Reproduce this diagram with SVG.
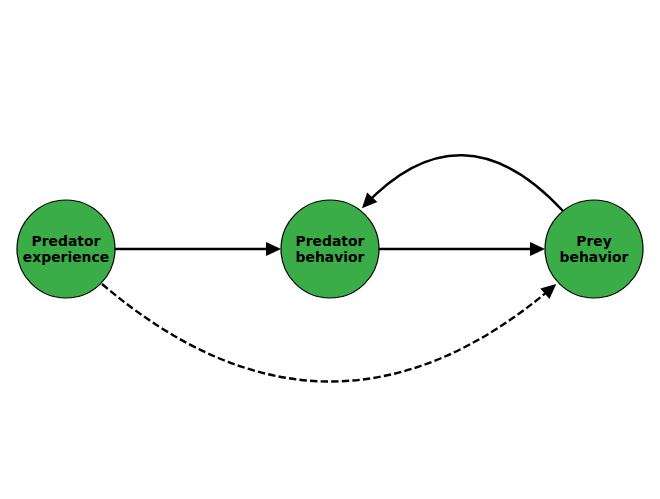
<svg xmlns="http://www.w3.org/2000/svg" width="660" height="499" viewBox="0 0 660 499">
<style>
.node circle{fill:#3aad48;stroke:#000;stroke-width:1.2}
.node text{font-family:"DejaVu Sans",sans-serif;font-weight:bold;font-size:13.9px;text-anchor:middle;fill:#000}
.edge{fill:none;stroke:#000;stroke-width:2.4}
.dash{stroke-dasharray:7.4,3.2}
</style>
<defs>
<marker id="ah" markerUnits="userSpaceOnUse" markerWidth="17" markerHeight="15" refX="12" refY="7" orient="auto" overflow="visible">
<path d="M0,0 L15,7 L0,14 z" fill="#000"/>
</marker>
</defs>
<rect width="660" height="499" fill="#fff"/>
<g id="connectors">
<path class="edge" d="M115,249 L278,249" marker-end="url(#ah)"/>
<path class="edge" d="M379,249 L542,249" marker-end="url(#ah)"/>
<path class="edge" d="M563,211 Q462,102 364,206" marker-end="url(#ah)"/>
<path class="edge dash" d="M102,284 Q330,478 554,286" marker-end="url(#ah)"/>
</g>
<g id="node-predator-experience" class="node">
<circle cx="66" cy="249" r="49"/>
<text x="66" y="246">Predator</text>
<text x="66" y="262">experience</text>
</g>
<g id="node-predator-behavior" class="node">
<circle cx="330" cy="249" r="49"/>
<text x="330" y="246">Predator</text>
<text x="330" y="262">behavior</text>
</g>
<g id="node-prey-behavior" class="node">
<circle cx="594" cy="249" r="49"/>
<text x="594" y="246">Prey</text>
<text x="594" y="262">behavior</text>
</g>
</svg>
